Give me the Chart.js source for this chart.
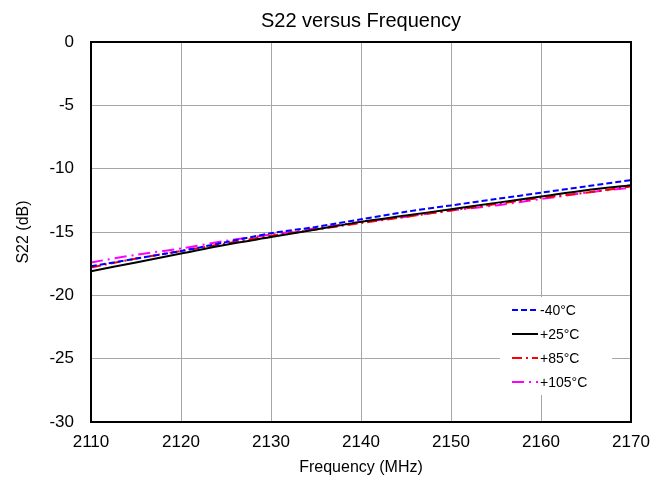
<!DOCTYPE html>
<html>
<head>
<meta charset="utf-8">
<script src="https://cdn.jsdelivr.net/npm/chart.js@4"></script>
<style>
  html, body { margin: 0; padding: 0; background: #fff; overflow: hidden; }
  #wrap { width: 668px; height: 485px; }
</style>
</head>
<body>
<div id="wrap"><canvas id="s22-chart"></canvas></div>
<script>
// frequency points (MHz)
const freqs = [2110, 2115, 2120, 2125, 2130, 2135, 2140, 2145, 2150, 2155, 2160, 2165, 2170];
// S22 (dB)
const sMinus40 = [-17.7, -17.1, -16.5, -15.8, -15.1, -14.6, -14.0, -13.4, -12.9, -12.4, -11.9, -11.4, -10.9];
const sPlus25 = [-18.1, -17.4, -16.7, -16.0, -15.4, -14.8, -14.2, -13.7, -13.2, -12.7, -12.2, -11.7, -11.3];
const sPlus85 = [-17.8, -17.1, -16.5, -15.9, -15.3, -14.8, -14.3, -13.8, -13.3, -12.8, -12.3, -11.9, -11.4];
const sPlus105 = [-17.4, -16.8, -16.3, -15.7, -15.2, -14.7, -14.2, -13.8, -13.3, -12.9, -12.4, -11.9, -11.5];
const seriesLabels = ['-40°C', '+25°C', '+85°C', '+105°C'];

const FONT = "Arial, 'Liberation Sans', sans-serif";
Chart.defaults.font.family = FONT;
Chart.defaults.color = '#000';

function pts(vals) {
    return freqs.map((f, i) => ({ x: f, y: vals[i] }));
}

// title, frame and in-plot legend
const decorPlugin = {
    id: 'decor',
    afterDraw(chart) {
        const c = chart.ctx;
        const a = chart.chartArea;
        c.save();
        c.strokeStyle = '#000';
        c.lineWidth = 2;
        c.strokeRect(a.left, a.top, a.right - a.left, a.bottom - a.top);

        c.fillStyle = '#000';
        c.font = '20px ' + FONT;
        c.textAlign = 'center';
        c.textBaseline = 'middle';
        c.fillText('S22 versus Frequency', (a.left + a.right) / 2, 21);

        // legend box
        c.fillStyle = '#fff';
        c.fillRect(500, 297, 112, 98);
        c.font = '14px ' + FONT;
        c.textAlign = 'left';
        const rows = [310, 334, 358, 382];
        chart.data.datasets.forEach((ds, i) => {
            c.strokeStyle = ds.borderColor;
            c.lineWidth = 2;
            c.setLineDash(ds.borderDash || []);
            c.beginPath();
            c.moveTo(512, rows[i]);
            c.lineTo(538, rows[i]);
            c.stroke();
            c.setLineDash([]);
            c.fillStyle = '#000';
            c.fillText(ds.label, 540, rows[i] + 1);
        });
        c.restore();
    }
};

new Chart(document.getElementById('s22-chart'), {
    type: 'line',
    data: {
        datasets: [
            { label: seriesLabels[0], data: pts(sMinus40), borderColor: '#0000ff', borderDash: [6, 3] },
            { label: seriesLabels[1], data: pts(sPlus25), borderColor: '#000000' },
            { label: seriesLabels[2], data: pts(sPlus85), borderColor: '#ff0000', borderDash: [10, 4, 2, 4] },
            { label: seriesLabels[3], data: pts(sPlus105), borderColor: '#ff00ff', borderDash: [12, 5, 2, 5] }
        ].map(d => Object.assign({ borderWidth: 2, pointRadius: 0, tension: 0.3, fill: false }, d))
    },
    options: {
        responsive: true,
        maintainAspectRatio: false,
        animation: false,
        layout: { padding: { top: 42, right: 37, left: 0, bottom: 0 } },
        plugins: {
            legend: { display: false },
            title: { display: false },
            tooltip: { enabled: false }
        },
        scales: {
            x: {
                type: 'linear',
                min: 2110,
                max: 2170,
                ticks: { stepSize: 10, padding: 10, font: { size: 17 }, callback: v => String(v) },
                grid: { color: '#a6a6a6', drawTicks: false },
                border: { color: '#000', width: 2 },
                title: { display: true, text: 'Frequency (MHz)', font: { size: 16 }, padding: { top: 0, bottom: 8 } },
                afterFit(scale) { scale.height = 63; }
            },
            y: {
                min: -30,
                max: 0,
                ticks: { stepSize: 5, padding: 17, font: { size: 17 } },
                grid: { color: '#a6a6a6', drawTicks: false },
                border: { color: '#000', width: 2 },
                title: { display: true, text: 'S22 (dB)', font: { size: 16 }, padding: { top: 14, bottom: 0 } },
                afterFit(scale) { scale.width = 91; }
            }
        }
    },
    plugins: [decorPlugin]
});
</script>
</body>
</html>
